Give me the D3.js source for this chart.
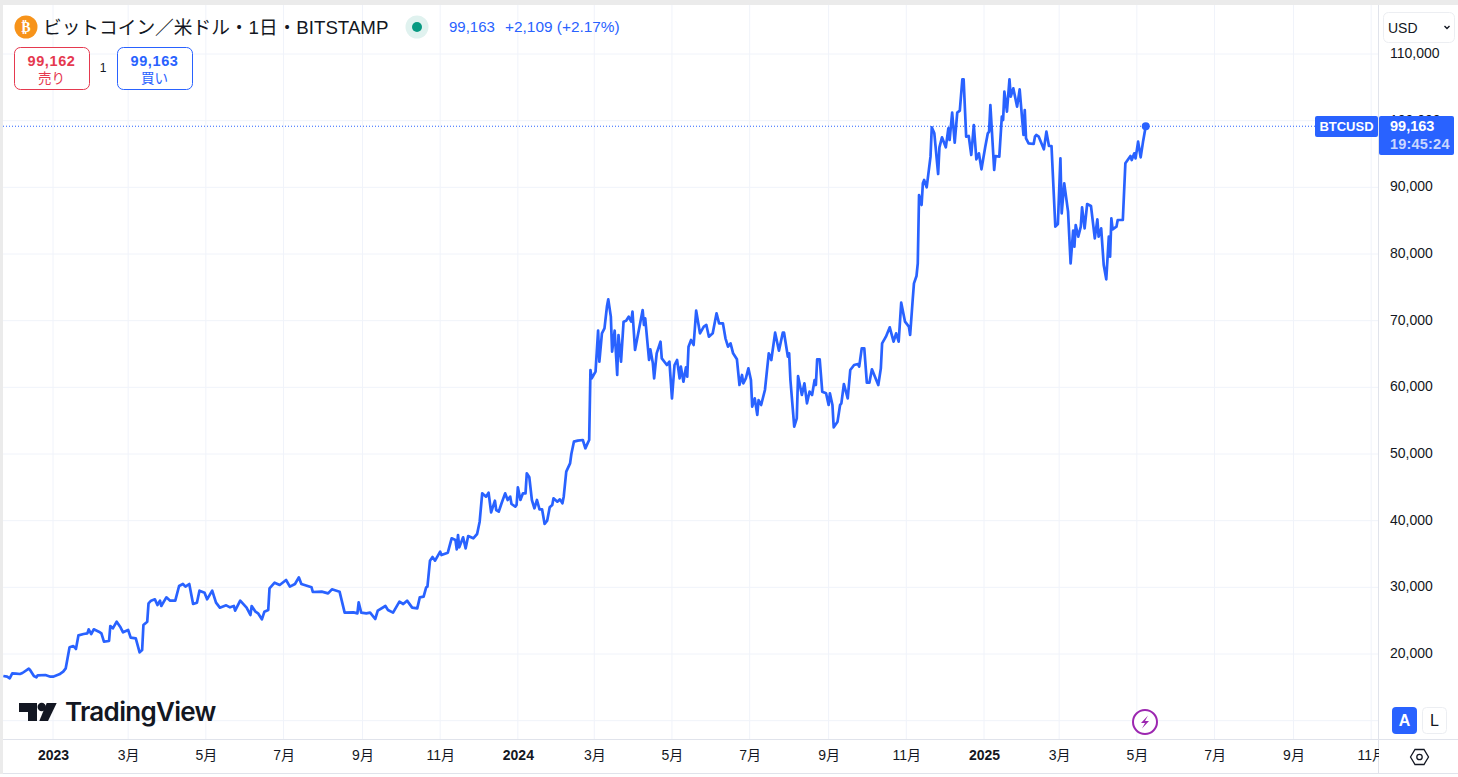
<!DOCTYPE html>
<html lang="ja"><head><meta charset="utf-8">
<style>html,body{margin:0;padding:0;background:#fff;overflow:hidden}svg{display:block}
text{font-family:"Liberation Sans","Noto Sans CJK JP",sans-serif}</style>
<script src="https://cdn.jsdelivr.net/npm/d3@7"></script></head><body><svg id="c" width="1458" height="777"></svg>
<script>
const priceTicks=[20000,30000,40000,50000,60000,70000,80000,90000,100000,110000];
const timeTickDates=["2023-01-01","2023-03-01","2023-05-01","2023-07-01","2023-09-01","2023-11-01","2024-01-01","2024-03-01","2024-05-01","2024-07-01","2024-09-01","2024-11-01","2025-01-01","2025-03-01","2025-05-01","2025-07-01","2025-09-01","2025-11-01"];
const timeTickLabels=["2023","3月","5月","7月","9月","11月","2024","3月","5月","7月","9月","11月","2025","3月","5月","7月","9月","11月"];
const yearLabels=["2023","2024","2025"];
const lastPrice=99163;
const daysSince2023=[-39,-36,-34,-32,-29,-26,-24,-19,-18,-15,-13,-12,-6,-2,0,5,8,10,13,16,18,20,24,27,28,30,32,36,38,40,44,45,47,50,53,55,59,61,65,68,70,71,74,75,77,80,82,84,85,89,92,96,99,102,104,107,110,113,115,119,121,125,128,131,136,139,142,143,147,152,155,156,159,161,164,166,169,170,174,178,183,186,190,193,195,203,204,211,216,219,225,229,236,239,240,242,246,249,253,255,261,263,267,272,275,278,282,286,288,291,293,294,296,298,300,304,305,310,313,316,317,318,319,322,324,326,330,333,335,337,340,342,344,347,348,350,352,355,357,359,360,363,364,365,367,369,371,372,374,376,378,380,382,384,386,388,390,392,393,396,398,400,401,403,406,407,409,412,416,418,420,421,422,423,426,428,429,431,433,435,436,438,439,441,443,444,446,448,450,452,454,455,457,460,463,464,465,468,469,471,472,474,477,478,482,484,486,488,490,492,493,495,497,498,499,501,503,505,508,511,513,515,518,521,523,526,528,530,532,534,537,539,541,542,544,546,548,549,551,553,554,556,559,562,564,567,570,573,574,577,578,579,582,584,585,588,590,592,594,596,598,599,600,602,604,607,609,610,612,613,616,618,619,621,624,626,629,632,633,635,637,639,641,643,648,650,651,654,657,660,662,664,666,669,672,673,675,676,678,679,680,682,683,684,686,689,690,692,695,696,698,701,703,704,706,708,710,712,714,715,717,719,721,723,725,727,729,732,734,735,736,739,740,743,745,746,747,749,751,752,754,757,759,762,763,764,766,770,771,772,774,778,780,782,784,787,789,791,792,794,797,799,801,802,803,805,807,808,810,812,815,818,820,821,823,825,827,829,830,831,832,835,836,840,842,846,847,849,850,852,854,856,858];
const closePrices=[16700,16600,16350,17100,17050,17000,17150,17800,17600,16700,16500,16800,16850,16600,16600,16950,17350,17850,21000,21200,20750,22800,23000,23100,23700,23000,23700,23350,23100,21850,21950,24200,23850,24850,24000,23250,23600,22450,22350,20250,20600,24350,24850,27600,28000,28200,27350,28000,27200,28500,28000,28000,30200,30500,30100,30500,27500,27700,29500,29200,28200,29500,27700,26950,27300,27000,27200,26500,28000,26950,25850,27200,26350,26100,25200,26350,26600,29850,30700,30350,31100,30100,30500,31500,30500,30000,29300,29350,29100,29700,29350,26200,26250,26100,27750,26200,26100,26200,25250,26500,27200,26600,26200,27850,27500,28000,26950,26850,28500,28600,30000,30100,34000,34550,34000,35350,34850,35200,37350,37100,35700,37850,36000,37500,35850,37700,37350,38000,39850,44100,43600,44200,41250,43000,41600,41350,42500,44100,43100,43600,42500,42100,42350,45000,43100,44100,44100,47100,46500,43100,41850,43100,41700,41700,39500,40000,42000,42350,43350,42850,43200,42600,43600,47350,48600,50000,51850,52000,52100,50850,51700,52100,62600,61350,62350,68500,63850,68100,68850,72200,73200,70600,65350,68500,61850,67850,63850,69850,70000,70600,69850,71350,65600,68600,71600,69350,70350,64100,65700,63600,61350,65100,66850,64350,63350,63850,58350,63350,64100,61350,63100,60850,63000,61600,66100,67100,66350,71500,68100,69100,69350,67600,68100,71100,69600,69600,67350,66100,66600,65100,64200,60350,61850,60600,61350,62850,61100,57100,58350,55850,58100,57350,59600,65100,64100,68200,65500,68200,68200,64600,65100,61100,54100,55350,61700,58850,60600,57600,59350,58850,61100,60350,64200,64200,59350,59100,57350,59100,57350,54000,54850,57350,57600,60500,58350,62600,63350,63500,63100,65850,65850,60700,60700,62700,60350,62850,66600,67600,69000,66850,68100,66850,72700,69850,69100,67850,73100,75600,76700,78600,88850,87350,90600,91100,90000,94600,99000,98100,92000,96000,97500,96000,98850,97100,101200,96700,101200,101500,106200,106200,97600,97700,94850,99350,94200,95100,92700,96100,98100,98350,102350,92600,94700,94600,100600,100100,104350,101350,106200,103600,104850,102100,104700,97850,101600,97350,96600,96500,97600,97850,97600,95700,98350,96200,96200,84100,84500,94350,86100,90600,86350,78600,83500,81100,84350,82600,84100,87000,83850,87500,87200,82350,85200,82600,83850,78350,76200,82600,79600,85350,83700,84100,85100,85100,93600,94700,94100,95100,94350,96850,94500,97000,99163];

const blue="#2962ff",grid="#f0f3fa",axisLine="#e0e3eb",ink="#131722",red="#e5394f";
const svg=d3.select("#c");
const baseDay=new Date(Date.UTC(2023,0,1));
const toDate=n=>d3.utcDay.offset(baseDay,n);
const x=d3.scaleUtc().domain([toDate(0),toDate(731)]).range([53,984]);
const y=d3.scaleLinear().domain([20000,110000]).range([654,54]);
const tickDates=timeTickDates.map(d=>new Date(d+"T00:00:00Z"));

// chrome background
svg.append("rect").attr("width",1458).attr("height",777).attr("fill","#fff");
const defs=svg.append("defs");
defs.append("clipPath").attr("id","pane").append("rect").attr("x",3).attr("y",5).attr("width",1375).attr("height",734);

// grid
const pane=svg.append("g").attr("clip-path","url(#pane)");
pane.append("g").selectAll("line").data(tickDates).join("line")
 .attr("x1",d=>x(d)).attr("x2",d=>x(d)).attr("y1",5).attr("y2",739).attr("stroke",grid);
pane.append("g").selectAll("line").data(priceTicks.concat([10000])).join("line")
 .attr("x1",3).attr("x2",1378).attr("y1",d=>y(d)).attr("y2",d=>y(d)).attr("stroke",grid);

// last price dotted line
pane.append("line").attr("x1",3).attr("x2",1316).attr("y1",y(lastPrice)).attr("y2",y(lastPrice))
 .attr("stroke",blue).attr("stroke-width",1).attr("stroke-dasharray","1 2");

// series
const pts=daysSince2023.map((d,i)=>({date:toDate(d),v:closePrices[i]}));
pane.append("path").datum(pts).attr("fill","none").attr("stroke",blue).attr("stroke-width",2.7)
 .attr("stroke-linejoin","round").attr("d",d3.line().x(d=>x(d.date)).y(d=>y(d.v)));
pane.append("circle").attr("cx",x(pts[pts.length-1].date)).attr("cy",y(lastPrice)).attr("r",4).attr("fill",blue);

// right price axis
const yAxis=svg.append("g").attr("transform","translate(1378,-1)").call(d3.axisRight(y).tickValues(priceTicks).tickFormat(d3.format(",")).tickSize(0).tickPadding(12));
yAxis.select(".domain").remove();
yAxis.selectAll("text").attr("font-size",14).attr("fill",ink).style("font-family",'"Liberation Sans",sans-serif');
svg.append("line").attr("x1",1378.5).attr("x2",1378.5).attr("y1",5).attr("y2",773).attr("stroke",axisLine);

// bottom time axis
const xAxis=svg.append("g").attr("transform","translate(0,739)")
 .call(d3.axisBottom(x).tickValues(tickDates).tickFormat((d,i)=>timeTickLabels[i]).tickSize(0).tickPadding(11));
xAxis.select(".domain").remove();
xAxis.selectAll("text").attr("font-size",14).attr("fill",ink)
 .attr("font-weight",(d,i)=>yearLabels.includes(timeTickLabels[i])?"700":"400");
svg.append("line").attr("x1",3).attr("x2",1458).attr("y1",739.5).attr("y2",739.5).attr("stroke",axisLine);
svg.append("line").attr("x1",3).attr("x2",1458).attr("y1",773.5).attr("y2",773.5).attr("stroke",axisLine);
// mask right of axis so 11月 is cut off
svg.append("rect").attr("x",1379).attr("y",740).attr("width",79).attr("height",33).attr("fill","#fff");

// outer grey page edge
svg.append("rect").attr("width",1458).attr("height",5).attr("fill","#ebebeb");
svg.append("rect").attr("y",0).attr("width",3).attr("height",777).attr("fill","#ebebeb");
svg.append("rect").attr("y",774).attr("width",1458).attr("height",3).attr("fill","#fff");

// price tags
svg.append("rect").attr("x",1315).attr("y",116).attr("width",63).attr("height",21).attr("rx",2).attr("fill",blue);
svg.append("text").attr("x",1346.5).attr("y",131).attr("text-anchor","middle").attr("fill","#fff").attr("font-size",13).attr("font-weight",700).text("BTCUSD");
svg.append("rect").attr("x",1379).attr("y",116).attr("width",75).attr("height",39).attr("rx",2).attr("fill",blue);
svg.append("text").attr("x",1390).attr("y",131).attr("fill","#fff").attr("font-size",14.5).attr("font-weight",700).text(d3.format(",")(lastPrice));
svg.append("text").attr("x",1390).attr("y",149).attr("fill","#fff").attr("fill-opacity",.75).attr("font-size",14.5).attr("font-weight",700).attr("letter-spacing",.2).text("19:45:24");

// USD selector
svg.append("rect").attr("x",1383.5).attr("y",12.5).attr("width",71).attr("height",30).attr("rx",5).attr("fill","#fff").attr("stroke","#eceef2");
svg.append("text").attr("x",1388).attr("y",33).attr("fill",ink).attr("font-size",14).text("USD");
svg.append("path").attr("d","M1444.5 26l2.5 2.5 2.5-2.5").attr("fill","none").attr("stroke",ink).attr("stroke-width",1.4);

// header
svg.append("circle").attr("cx",26).attr("cy",27).attr("r",11.5).attr("fill","#f7931a");
svg.append("text").attr("x",26).attr("y",32).attr("text-anchor","middle").attr("fill","#fff").attr("font-size",14).attr("font-weight",700).style("font-family",'"DejaVu Sans"').text("₿");
svg.append("text").attr("x",43).attr("y",34).attr("fill",ink).attr("font-size",18.7).text("ビットコイン／米ドル・1日・BITSTAMP");
svg.append("circle").attr("cx",417).attr("cy",27).attr("r",11.5).attr("fill","#e0f2ef");
svg.append("circle").attr("cx",417).attr("cy",27).attr("r",5).attr("fill","#089981");
svg.append("text").attr("x",449).attr("y",32).attr("fill",blue).attr("font-size",15).text("99,163");
svg.append("text").attr("x",505).attr("y",32).attr("fill",blue).attr("font-size",15.4).text("+2,109 (+2.17%)");

// sell / buy
function btn(x0,w,col,price,lab){
 svg.append("rect").attr("x",x0+.5).attr("y",47.5).attr("width",w).attr("height",42).attr("rx",6).attr("fill","#fff").attr("stroke",col);
 svg.append("text").attr("x",x0+w/2).attr("y",66).attr("text-anchor","middle").attr("fill",col).attr("font-size",14.5).attr("font-weight",700).attr("letter-spacing",.6).text(price);
 svg.append("text").attr("x",x0+w/2).attr("y",83).attr("text-anchor","middle").attr("fill",col).attr("font-size",13.5).text(lab);
}
btn(14,75,red,"99,162","売り");
btn(117,75,blue,"99,163","買い");
svg.append("text").attr("x",103).attr("y",72).attr("text-anchor","middle").attr("fill",ink).attr("font-size",12).text("1");

// TradingView logo
const logo=svg.append("g").attr("fill","#131722");
logo.append("path").attr("d","M19 703H37V721H28V712H19Z");
logo.append("circle").attr("cx",41.7).attr("cy",707).attr("r",4.2);
logo.append("path").attr("d","M46.7 703H56.7L48 721H39.3Z");
svg.append("text").attr("x",65).attr("y",721).attr("fill","#131722").attr("font-size",26).attr("font-weight",600).style("font-family","Inter").attr("letter-spacing","-0.7").text("TradingView");

// lightning badge
svg.append("circle").attr("cx",1145).attr("cy",722).attr("r",12).attr("fill","#fff").attr("stroke","#9c27b0").attr("stroke-width",2);
svg.append("path").attr("d","M1148 715.5L1141 723H1145L1142 728.5L1149 721H1145Z").attr("fill","#9c27b0");

// A / L buttons
svg.append("rect").attr("x",1392).attr("y",707).attr("width",25).attr("height",27).attr("rx",4).attr("fill",blue);
svg.append("text").attr("x",1404.5).attr("y",726).attr("text-anchor","middle").attr("fill","#fff").attr("font-size",16).attr("font-weight",700).text("A");
svg.append("rect").attr("x",1422.5).attr("y",707.5).attr("width",24).attr("height",26).attr("rx",4).attr("fill","#fff").attr("stroke","#eceef2");
svg.append("text").attr("x",1434.5).attr("y",726).attr("text-anchor","middle").attr("fill",ink).attr("font-size",16).text("L");

// settings hexagon
svg.append("path").attr("d","M1410.5 757L1415 749.5H1424L1428.5 757L1424 764.5H1415Z").attr("fill","none").attr("stroke",ink).attr("stroke-width",1.3);
svg.append("circle").attr("cx",1419.5).attr("cy",757).attr("r",2.7).attr("fill","none").attr("stroke",ink).attr("stroke-width",1.3);
</script></body></html>
